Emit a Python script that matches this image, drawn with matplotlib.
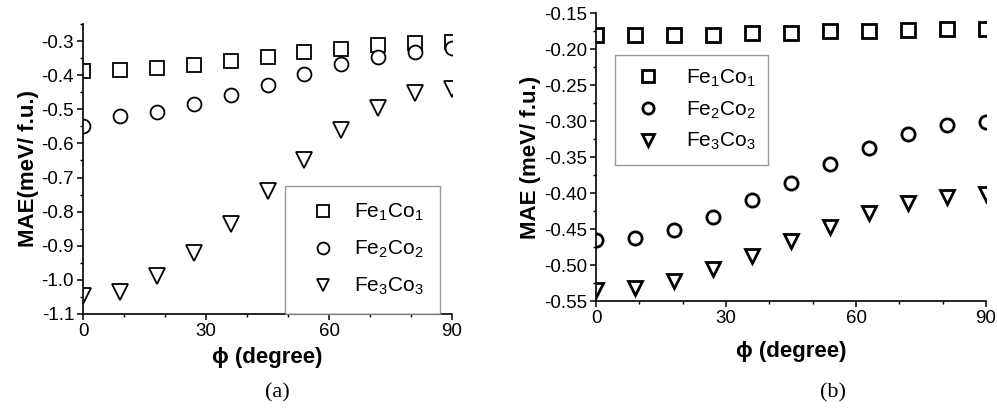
import matplotlib
matplotlib.use("Agg")
import matplotlib.pyplot as plt
from matplotlib.ticker import MultipleLocator

plt.rcParams['font.family'] = ['Liberation Sans', 'DejaVu Sans']
plt.rcParams['mathtext.default'] = 'regular'

# 数据
phi = [0, 9, 18, 27, 36, 45, 54, 63, 72, 81, 90]
labels = ['Fe$_1$Co$_1$', 'Fe$_2$Co$_2$', 'Fe$_3$Co$_3$']

# (a)
fe1co1_a = [-0.388, -0.386, -0.379, -0.370, -0.358, -0.346, -0.333, -0.322, -0.312, -0.305, -0.302]
fe2co2_a = [-0.549, -0.521, -0.508, -0.485, -0.459, -0.428, -0.397, -0.368, -0.346, -0.331, -0.321]
fe3co3_a = [-1.046, -1.035, -0.990, -0.922, -0.836, -0.741, -0.648, -0.561, -0.495, -0.452, -0.442]

# (b)
fe1co1_b = [-0.181, -0.181, -0.180, -0.180, -0.178, -0.1775, -0.1756, -0.1747, -0.173, -0.172, -0.172]
fe2co2_b = [-0.465, -0.462, -0.451, -0.433, -0.410, -0.386, -0.360, -0.337, -0.318, -0.305, -0.3015]
fe3co3_b = [-0.535, -0.532, -0.522, -0.506, -0.4875, -0.466, -0.447, -0.428, -0.414, -0.4055, -0.402]

markers = ['s', 'o', 'v']

fig = plt.figure(figsize=(9.97, 4.12), dpi=100)
ax1 = fig.add_axes([0.0833, 0.2379, 0.3701, 0.7039])
ax2 = fig.add_axes([0.5978, 0.2694, 0.3912, 0.6990])


def style_axis(ax, ylim, ymajor, yminor, yfmt):
    ax.set_xlim(0, 90)
    ax.set_ylim(*ylim)
    ax.xaxis.set_major_locator(MultipleLocator(30))
    ax.xaxis.set_minor_locator(MultipleLocator(10))
    ax.yaxis.set_major_locator(MultipleLocator(ymajor))
    ax.yaxis.set_minor_locator(MultipleLocator(yminor))
    ax.yaxis.set_major_formatter(plt.FormatStrFormatter(yfmt))
    for s in ['top', 'right']:
        ax.spines[s].set_visible(False)
    for s in ['left', 'bottom']:
        ax.spines[s].set_linewidth(1.2)
    ax.tick_params(which='major', direction='out', length=4.5, width=1.1, labelsize=13.5, pad=2)
    ax.tick_params(which='minor', direction='out', length=2.5, width=1.0)


# (a)
for y, m, lab in zip([fe1co1_a, fe2co2_a, fe3co3_a], markers, labels):
    ax1.plot(phi, y, ls='none', marker=m, ms=10 if m != 'v' else 11,
             mfc='white', mec='black', mew=1.3, label=lab)
style_axis(ax1, (-1.1, -0.25), 0.1, 0.05, '%.1f')
ax1.set_xlabel('\u03d5 (degree)', fontsize=16, fontweight='bold', labelpad=5)
ax1.set_ylabel('MAE(meV/ f.u.)', fontsize=16, fontweight='bold', labelpad=2)
leg1 = ax1.legend(loc='lower right', bbox_to_anchor=(0.9675, 0.0), borderaxespad=0,
                  fontsize=15, frameon=True, fancybox=False, edgecolor='#808080',
                  borderpad=0.8, handlelength=2.0, handletextpad=0.5, labelspacing=0.75,
                  markerscale=0.85)
leg1.get_frame().set_linewidth(1.0)

# (b)
for y, m, lab in zip([fe1co1_b, fe2co2_b, fe3co3_b], markers, labels):
    ax2.plot(phi, y, ls='none', marker=m, ms=9.5 if m != 'v' else 10.5,
             mfc='white', mec='black', mew=2.0, label=lab)
style_axis(ax2, (-0.55, -0.15), 0.05, 0.025, '%.2f')
ax2.set_xlabel('\u03d5 (degree)', fontsize=16, fontweight='bold', labelpad=10)
ax2.set_ylabel('MAE (meV/ f.u.)', fontsize=16, fontweight='bold', labelpad=2)
leg2 = ax2.legend(loc='upper left', bbox_to_anchor=(0.0487, 0.854), borderaxespad=0,
                  fontsize=15, frameon=True, fancybox=False, edgecolor='#808080',
                  borderpad=0.6, handlelength=2.0, handletextpad=0.8, labelspacing=0.5,
                  markerscale=0.85)
leg2.get_frame().set_linewidth(1.0)

# 子图标题
fig.text(0.278, 0.047, '(a)', ha='center', va='center', fontsize=16, family='Liberation Serif')
fig.text(0.836, 0.047, '(b)', ha='center', va='center', fontsize=16, family='Liberation Serif')

fig.savefig('out.png', dpi=100)
